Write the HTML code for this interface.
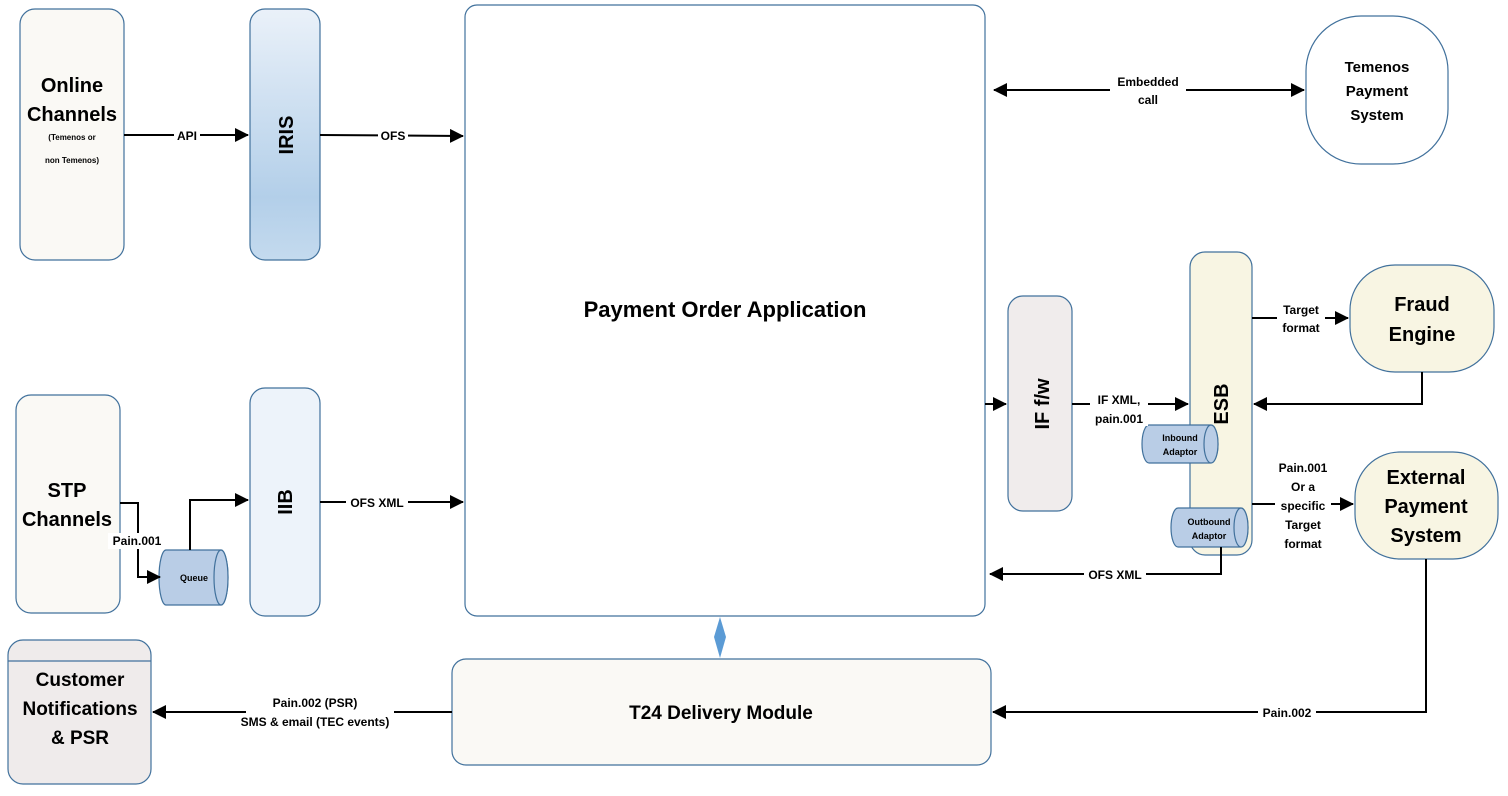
<!DOCTYPE html>
<html><head><meta charset="utf-8"><style>
html,body{margin:0;padding:0;background:#fff;}
svg{display:block;font-family:"Liberation Sans",sans-serif;}
.b{stroke:#41719c;stroke-width:1.2;}
.l{stroke:#000;stroke-width:2;fill:none;}
.t{font-weight:bold;fill:#000;text-anchor:middle;}
.lb{font-size:12px;font-weight:bold;text-anchor:middle;}
</style></head><body>
<svg width="1508" height="796" viewBox="0 0 1508 796" xmlns="http://www.w3.org/2000/svg">
<defs>
<linearGradient id="g1" x1="0" y1="0" x2="0" y2="1"><stop offset="0" stop-color="#eaf1f9"/><stop offset="0.75" stop-color="#b3cfe9"/><stop offset="1" stop-color="#c4daee"/></linearGradient>
<marker id="a" markerWidth="10" markerHeight="10" refX="9" refY="5" orient="auto" markerUnits="userSpaceOnUse" viewBox="0 0 10 10"><path d="M0,0 L10,5 L0,10 Z" fill="#000"/></marker>
<marker id="as" markerWidth="14" markerHeight="14" refX="13" refY="7" orient="auto-start-reverse" markerUnits="userSpaceOnUse" viewBox="0 0 14 14"><path d="M0,0 L14,7 L0,14 Z" fill="#000"/></marker>
</defs>
<!-- boxes -->
<rect x="20" y="9" width="104" height="251" rx="15" fill="#faf9f5" class="b"/>
<rect x="250" y="9" width="70" height="251" rx="15" fill="url(#g1)" class="b"/>
<rect x="465" y="5" width="520" height="611" rx="12" fill="#fff" class="b"/>
<rect x="1306" y="16" width="142" height="148" rx="55" fill="#fff" class="b"/>
<rect x="16" y="395" width="104" height="218" rx="15" fill="#faf9f5" class="b"/>
<rect x="250" y="388" width="70" height="228" rx="15" fill="#edf3fa" class="b"/>
<rect x="1008" y="296" width="64" height="215" rx="15" fill="#f0ecec" class="b"/>
<rect x="1190" y="252" width="62" height="303" rx="15" fill="#f8f5e3" class="b"/>
<rect x="1350" y="265" width="144" height="107" rx="45" fill="#f8f5e3" class="b"/>
<rect x="1355" y="452" width="143" height="107" rx="45" fill="#f8f5e3" class="b"/>
<rect x="8" y="640" width="143" height="144" rx="15" fill="#efebeb" class="b"/>
<line x1="8" y1="661" x2="151" y2="661" class="b"/>
<rect x="452" y="659" width="539" height="106" rx="14" fill="#faf9f5" class="b"/>
<!-- cylinders -->
<path d="M166,550 L221,550 A7,27.5 0 0 1 221,605 L166,605 A7,27.5 0 0 1 166,550 Z" fill="#b9cde6" class="b"/>
<ellipse cx="221" cy="577.5" rx="7" ry="27.5" fill="#b9cde6" class="b"/>
<path d="M1149,425 L1211,425 A7,19 0 0 1 1211,463 L1149,463 A7,19 0 0 1 1149,425 Z" fill="#b9cde6" class="b"/>
<ellipse cx="1211" cy="444" rx="7" ry="19" fill="#b9cde6" class="b"/>
<path d="M1178,508 L1241,508 A7,19.5 0 0 1 1241,547 L1178,547 A7,19.5 0 0 1 1178,508 Z" fill="#b9cde6" class="b"/>
<ellipse cx="1241" cy="527.5" rx="7" ry="19.5" fill="#b9cde6" class="b"/>
<!-- connectors -->
<line x1="124" y1="135" x2="248" y2="135" class="l" marker-end="url(#as)"/>
<line x1="320" y1="135" x2="463" y2="136" class="l" marker-end="url(#as)"/>
<line x1="994" y1="90" x2="1304" y2="90" class="l" marker-start="url(#as)" marker-end="url(#as)"/>
<line x1="320" y1="502" x2="463" y2="502" class="l" marker-end="url(#as)"/>
<polyline points="120,503 138,503 138,577 160,577" class="l" marker-end="url(#as)"/>
<polyline points="190,550 190,500 248,500" class="l" marker-end="url(#as)"/>
<line x1="985" y1="404" x2="1006" y2="404" class="l" marker-end="url(#as)"/>
<line x1="1072" y1="404" x2="1188" y2="404" class="l" marker-end="url(#as)"/>
<line x1="1252" y1="318" x2="1348" y2="318" class="l" marker-end="url(#as)"/>
<polyline points="1422,372 1422,404 1254,404" class="l" marker-end="url(#as)"/>
<line x1="1252" y1="504" x2="1353" y2="504" class="l" marker-end="url(#as)"/>
<polyline points="1221,547 1221,574 990,574" class="l" marker-end="url(#as)"/>
<polyline points="1426,559 1426,712 993,712" class="l" marker-end="url(#as)"/>
<line x1="452" y1="712" x2="153" y2="712" class="l" marker-end="url(#as)"/>
<path d="M720,617 L726,637 L720,658 L714,637 Z" fill="#5b9bd5"/>
<!-- label backgrounds -->
<rect x="174" y="127" width="26" height="16" fill="#fff"/>
<rect x="378" y="127" width="30" height="16" fill="#fff"/>
<rect x="1110" y="72" width="76" height="38" fill="#fff"/>
<rect x="346" y="494" width="62" height="16" fill="#fff"/>
<rect x="108" y="533" width="58" height="16" fill="#fff"/>
<rect x="1090" y="390" width="58" height="36" fill="#fff"/>
<rect x="1277" y="298" width="48" height="38" fill="#fff"/>
<rect x="1275" y="458" width="56" height="92" fill="#fff"/>
<rect x="1084" y="566" width="62" height="16" fill="#fff"/>
<rect x="1258" y="704" width="58" height="16" fill="#fff"/>
<rect x="246" y="694" width="148" height="36" fill="#fff"/>
<!-- labels -->
<text x="187" y="140" class="lb">API</text>
<text x="393" y="140" class="lb">OFS</text>
<text x="1148" y="86" class="lb" font-size="13">Embedded</text>
<text x="1148" y="104" class="lb" font-size="13">call</text>
<text x="377" y="507" class="lb">OFS XML</text>
<text x="137" y="545" class="lb" font-size="13">Pain.001</text>
<text x="1119" y="404" class="lb" font-size="13">IF XML,</text>
<text x="1119" y="423" class="lb" font-size="13">pain.001</text>
<text x="1301" y="314" class="lb">Target</text>
<text x="1301" y="332" class="lb">format</text>
<text x="1303" y="472" class="lb">Pain.001</text>
<text x="1303" y="491" class="lb">Or a</text>
<text x="1303" y="510" class="lb">specific</text>
<text x="1303" y="529" class="lb">Target</text>
<text x="1303" y="548" class="lb">format</text>
<text x="1115" y="579" class="lb">OFS XML</text>
<text x="1287" y="717" class="lb">Pain.002</text>
<text x="315" y="707" class="lb">Pain.002 (PSR)</text>
<text x="315" y="726" class="lb">SMS &amp; email (TEC events)</text>
<!-- node text -->
<text x="72" y="92" class="t" font-size="20">Online</text>
<text x="72" y="121" class="t" font-size="20">Channels</text>
<text x="72" y="140" class="t" font-size="8">(Temenos or</text>
<text x="72" y="163" class="t" font-size="8">non Temenos)</text>
<text class="t" font-size="20" transform="translate(293,135) rotate(-90)">IRIS</text>
<text x="725" y="317" class="t" font-size="22">Payment Order Application</text>
<text x="1377" y="72" class="t" font-size="15">Temenos</text>
<text x="1377" y="96" class="t" font-size="15">Payment</text>
<text x="1377" y="120" class="t" font-size="15">System</text>
<text x="67" y="497" class="t" font-size="20">STP</text>
<text x="67" y="526" class="t" font-size="20">Channels</text>
<text x="194" y="581" class="t" font-size="9">Queue</text>
<text class="t" font-size="20" transform="translate(292,502) rotate(-90)">IIB</text>
<text class="t" font-size="20" transform="translate(1049,404) rotate(-90)">IF f/w</text>
<text class="t" font-size="20" transform="translate(1228,404) rotate(-90)">ESB</text>
<text x="1180" y="441" class="t" font-size="9">Inbound</text>
<text x="1180" y="455" class="t" font-size="9">Adaptor</text>
<text x="1209" y="525" class="t" font-size="9">Outbound</text>
<text x="1209" y="539" class="t" font-size="9">Adaptor</text>
<text x="1422" y="311" class="t" font-size="20">Fraud</text>
<text x="1422" y="341" class="t" font-size="20">Engine</text>
<text x="1426" y="484" class="t" font-size="20">External</text>
<text x="1426" y="513" class="t" font-size="20">Payment</text>
<text x="1426" y="542" class="t" font-size="20">System</text>
<text x="80" y="686" class="t" font-size="19">Customer</text>
<text x="80" y="715" class="t" font-size="19">Notifications</text>
<text x="80" y="744" class="t" font-size="19">&amp; PSR</text>
<text x="721" y="719" class="t" font-size="19">T24 Delivery Module</text>
</svg>
</body></html>
